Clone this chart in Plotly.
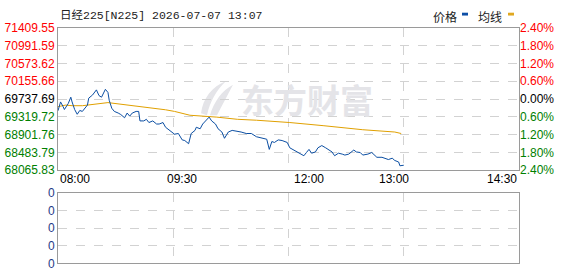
import plotly.graph_objects as go

# ---------------- data ----------------
title_text = "日经225[N225] 2026-07-07 13:07"
prev_close = 69737.69

# minute index of the session (08:00 = 0, axis spans 360 slots)
price_time = [0, 2, 4, 5, 8, 10, 11, 13, 15, 17, 19, 21, 23, 24, 27, 30, 32, 34, 37, 39,
              40, 42, 44, 47, 49, 52, 54, 56, 58, 61, 63, 64, 67, 69, 71, 74, 77, 79, 82, 84,
              87, 91, 94, 97, 99, 102, 104, 107, 108, 111, 113, 116, 118, 120, 123, 125, 128, 130, 133, 136,
              140, 143, 147, 151, 155, 159, 163, 165, 167, 169, 172, 175, 177, 179, 181, 185, 189, 192, 194, 196,
              198, 201, 203, 206, 209, 211, 214, 216, 219, 222, 224, 227, 231, 233, 236, 238, 242, 245, 249, 253,
              255, 258, 261, 263, 266, 267, 270]
price_vals = [69464, 69671, 69559, 69493, 69633, 69782, 69671, 69493, 69381, 69470, 69448, 69522, 69597, 69760, 69834, 69954, 69820, 69782, 69967, 69894,
              69709, 69522, 69448, 69410, 69375, 69299, 69410, 69337, 69410, 69448, 69448, 69225, 69225, 69263, 69187, 69225, 69152, 69152, 69187, 69076,
              69002, 68913, 68929, 68779, 68764, 68690, 68929, 69002, 69076, 69040, 69152, 69263, 69314, 69225, 69152, 69040, 68964, 68817, 68964, 69002,
              68987, 68964, 68929, 68929, 68853, 68817, 68795, 68556, 68741, 68719, 68779, 68764, 68741, 68719, 68594, 68519, 68445, 68407, 68483, 68556,
              68467, 68496, 68594, 68646, 68594, 68556, 68496, 68407, 68467, 68445, 68423, 68445, 68541, 68496, 68483, 68423, 68445, 68483, 68371, 68371,
              68349, 68318, 68349, 68296, 68260, 68171, 68184]

avg_time = [0, 6, 11, 19, 39, 51, 66, 84, 91, 103, 124, 140, 155, 181, 207, 238, 263, 268]
avg_vals = [69559, 69597, 69582, 69582, 69655, 69611, 69559, 69486, 69448, 69358, 69314, 69263, 69241, 69187, 69114, 69018, 68964, 68929]

price_levels = [71409.55, 70991.59, 70573.62, 70155.66, 69737.69, 69319.72, 68901.76, 68483.79, 68065.83]
price_labels = ["71409.55", "70991.59", "70573.62", "70155.66", "69737.69", "69319.72", "68901.76", "68483.79", "68065.83"]
pct_labels = ["2.40%", "1.80%", "1.20%", "0.60%", "0.00%", "0.60%", "1.20%", "1.80%", "2.40%"]
time_labels = ["08:00", "09:30", "12:00", "13:00", "14:30"]
time_label_pos = [0, 97, 196, 262, 360]
grid_times = [90, 180, 270]
vol_levels = [0, 1, 2, 3, 4]
vol_labels = ["0", "0", "0", "0", "0"]

# ---------------- style ----------------
W, H = 578, 276
RED, GREEN, BLACK = "#ff0000", "#008000", "#000000"
BLUE, ORANGE = "#0b4ea2", "#e0a000"
GRID = "#d2d2d2"
BORDER = "#9a9a9a"
FONT = "Liberation Sans, Arial, sans-serif"


def col(i, n):
    mid = n // 2
    return RED if i < mid else (BLACK if i == mid else GREEN)


left_text = [f"<span style='color:{col(i, len(price_labels))}'>{t}</span>" for i, t in enumerate(price_labels)]
right_text = [f"<span style='color:{col(i, len(pct_labels))}'>{t}</span>" for i, t in enumerate(pct_labels)]

x_dom = [58 / W, 519 / W]
top_dom = [(H - 172) / H, (H - 22) / H]
bot_dom = [(H - 270) / H, (H - 196) / H]

fig = go.Figure()
fig.add_trace(go.Scatter(x=avg_time, y=avg_vals, mode="lines", line=dict(color=ORANGE, width=1),
                         xaxis="x", yaxis="y", hoverinfo="skip", showlegend=False))
fig.add_trace(go.Scatter(x=price_time, y=price_vals, mode="lines", line=dict(color=BLUE, width=1),
                         xaxis="x", yaxis="y", hoverinfo="skip", showlegend=False))
fig.add_trace(go.Scatter(x=[None], y=[None], xaxis="x", yaxis="y2", showlegend=False, hoverinfo="skip"))
fig.add_trace(go.Scatter(x=[None], y=[None], xaxis="x2", yaxis="y3", showlegend=False, hoverinfo="skip"))

grid_common = dict(showgrid=True, gridcolor=GRID, griddash="dash", gridwidth=1,
                   showline=True, mirror=True, linecolor=BORDER, linewidth=1,
                   zeroline=False, ticks="", fixedrange=True)

fig.update_layout(
    width=W, height=H, margin=dict(l=0, r=0, t=0, b=0),
    paper_bgcolor="white", plot_bgcolor="white",
    font=dict(family=FONT, size=12, color="black"),
    showlegend=False,
    xaxis=dict(domain=x_dom, anchor="y", range=[0, 360], tickvals=grid_times,
               showticklabels=False, **grid_common),
    yaxis=dict(domain=top_dom, anchor="x", range=[price_levels[-1], price_levels[0]],
               tickvals=price_levels, ticktext=left_text, tickfont=dict(size=12, family=FONT),
               **grid_common),
    yaxis2=dict(overlaying="y", side="right", anchor="x", range=[price_levels[-1], price_levels[0]],
                tickvals=price_levels, ticktext=right_text, tickfont=dict(size=12, family=FONT),
                showgrid=False, zeroline=False, showline=False, ticks="", fixedrange=True),
    xaxis2=dict(domain=x_dom, anchor="y3", range=[0, 360], tickvals=grid_times,
                showticklabels=False, **grid_common),
    yaxis3=dict(domain=bot_dom, anchor="x2", range=[0, 4], tickvals=vol_levels, ticktext=vol_labels,
                tickfont=dict(size=12, family=FONT, color="#1f3b87"), **grid_common),
)

# x time labels
anchors = ["left", "center", "center", "center", "right"]
for t, p, a in zip(time_labels, time_label_pos, anchors):
    fig.add_annotation(x=p, y=(H - 181) / H, xref="x", yref="paper", text=t, showarrow=False,
                       xanchor=a, yanchor="middle", font=dict(size=12, family=FONT, color="black"))

# title
fig.add_annotation(x=58 / W, y=(H - 9) / H, xref="paper", yref="paper", text=title_text, showarrow=False,
                   xanchor="left", yanchor="middle",
                   font=dict(size=11.5, family="Liberation Mono, Noto Sans CJK SC", color="#222222"))

# legend
fig.add_annotation(x=431 / W, y=(H - 10) / H, xref="paper", yref="paper", text="价格", showarrow=False,
                   xanchor="left", yanchor="middle", font=dict(size=12, family="Noto Sans CJK SC", color="#222"))
fig.add_annotation(x=476 / W, y=(H - 10) / H, xref="paper", yref="paper", text="均线", showarrow=False,
                   xanchor="left", yanchor="middle", font=dict(size=12, family="Noto Sans CJK SC", color="#222"))
fig.add_shape(type="rect", xref="paper", yref="paper", x0=462 / W, x1=468 / W, y0=(H - 9) / H, y1=(H - 6) / H,
              fillcolor="#0d4fa6", line=dict(width=0))
fig.add_shape(type="rect", xref="paper", yref="paper", x0=508 / W, x1=514 / W, y0=(H - 9) / H, y1=(H - 6) / H,
              fillcolor="#e0a820", line=dict(width=0))

# watermark
def P(x, y):
    return f"{x / W:.4f},{(H - y) / H:.4f}"

wm = "#e4e4e8"
fig.add_shape(type="path", xref="paper", yref="paper", layer="below", fillcolor=wm, line=dict(width=0),
              path=f"M {P(201,112)} C {P(203,96)} {P(212,84)} {P(226,78)} C {P(216,88)} {P(210,100)} {P(207,114)} Z")
fig.add_shape(type="path", xref="paper", yref="paper", layer="below", fillcolor=wm, line=dict(width=0),
              path=f"M {P(210,114)} C {P(214,100)} {P(222,88)} {P(233,82)} C {P(227,94)} {P(222,104)} {P(217,114)} Z")
fig.add_annotation(x=307 / W, y=(H - 97) / H, xref="paper", yref="paper", text="<b>东方财富</b>", showarrow=False,
                   xanchor="center", yanchor="middle",
                   font=dict(size=33, family="Noto Sans CJK SC", color=wm))

fig.write_html("out.html")
